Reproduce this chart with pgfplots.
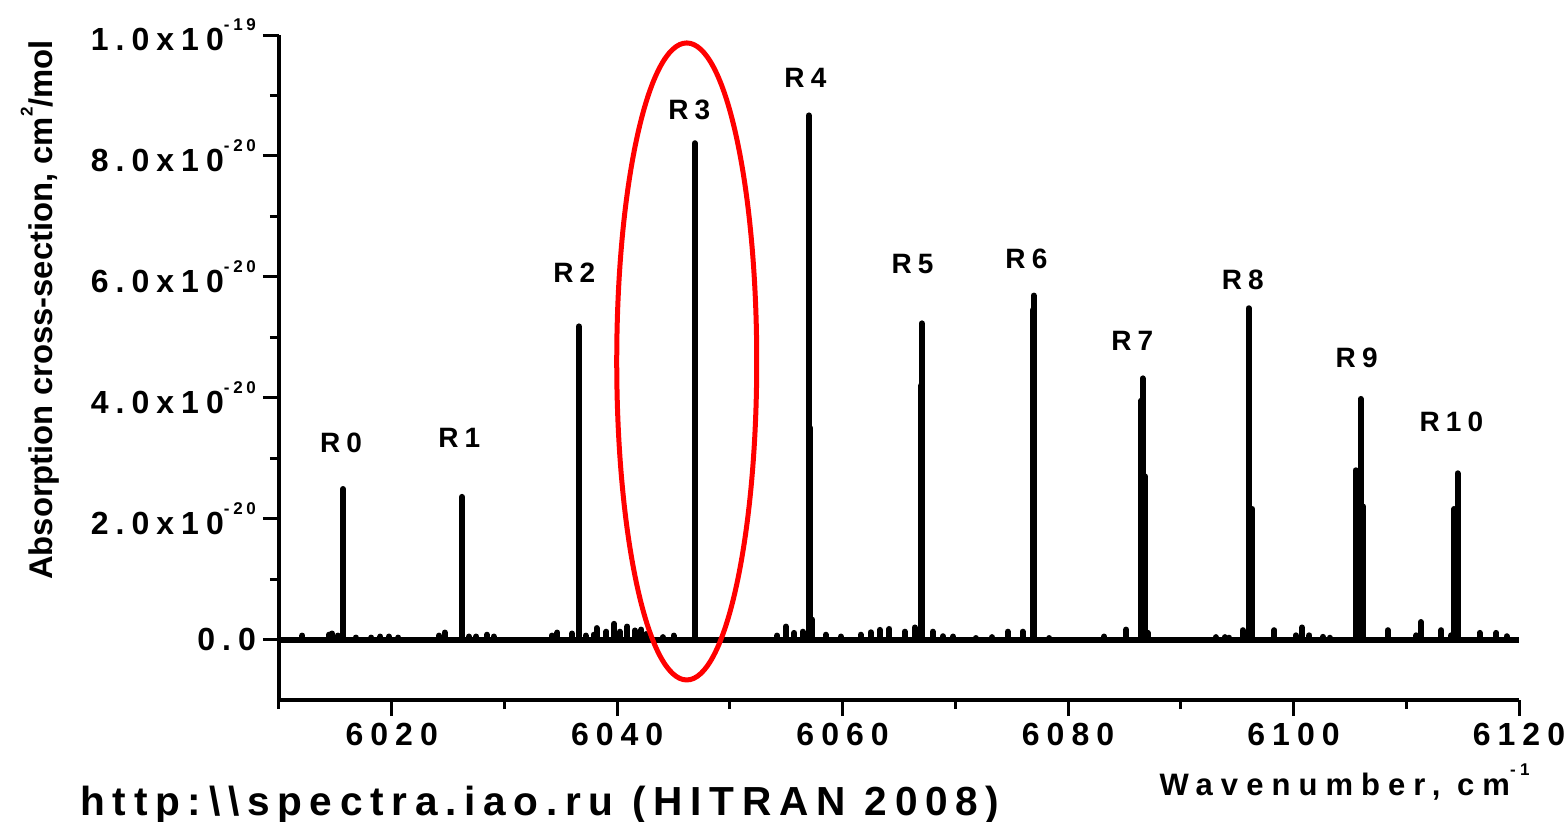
\documentclass[border=0pt]{standalone}
\usepackage{fontspec}
\setmainfont{Liberation Sans}
\newfontfamily\spc[LetterSpace=22]{Liberation Sans}
\newfontfamily\spcb[LetterSpace=19]{Liberation Sans}
\newfontfamily\spcc[LetterSpace=26]{Liberation Sans}
\usepackage{pgfplots}
\usepackage{pgfplotstable}
\pgfplotsset{compat=1.18}
\newcommand\sups[1]{\raisebox{0.62em}{\fontsize{8.5}{8.5}\selectfont #1}}

\pgfplotstableread{
x y
6015.68 2.49e-20
6026.23 2.36e-20
6036.60 5.18e-20
6046.89 8.21e-20
6057.00 8.67e-20
6057.12 3.50e-20
6067.02 5.23e-20
6066.95 4.20e-20
6076.95 5.69e-20
6076.85 5.45e-20
6086.62 4.32e-20
6086.50 3.95e-20
6086.80 2.70e-20
6096.02 5.48e-20
6096.35 2.16e-20
6105.95 3.98e-20
6105.50 2.80e-20
6106.20 2.20e-20
6114.55 2.75e-20
6114.25 2.16e-20
6012.07 0.66e-21
6014.43 0.80e-21
6014.70 1.00e-21
6015.20 0.66e-21
6016.80 0.33e-21
6018.20 0.33e-21
6019.00 0.50e-21
6019.75 0.50e-21
6020.60 0.33e-21
6024.20 0.66e-21
6024.70 1.16e-21
6026.85 0.50e-21
6027.50 0.50e-21
6028.45 0.80e-21
6029.05 0.50e-21
6034.20 0.66e-21
6034.70 1.16e-21
6036.00 1.00e-21
6037.20 0.66e-21
6037.90 0.80e-21
6038.17 1.90e-21
6039.05 1.30e-21
6039.73 2.60e-21
6040.23 1.30e-21
6040.90 2.15e-21
6041.56 1.50e-21
6042.15 1.65e-21
6042.60 0.90e-21
6044.05 0.40e-21
6045.00 0.66e-21
6054.20 0.66e-21
6054.96 2.15e-21
6055.70 1.10e-21
6056.45 1.30e-21
6057.30 3.30e-21
6058.50 0.80e-21
6059.85 0.50e-21
6061.60 0.80e-21
6062.50 1.20e-21
6063.30 1.60e-21
6064.15 1.75e-21
6065.50 1.30e-21
6066.40 2.00e-21
6068.00 1.30e-21
6068.90 0.55e-21
6069.80 0.50e-21
6071.80 0.25e-21
6073.25 0.40e-21
6074.65 1.30e-21
6075.96 1.30e-21
6078.35 0.25e-21
6083.20 0.50e-21
6085.15 1.65e-21
6087.07 1.10e-21
6093.10 0.40e-21
6093.90 0.40e-21
6094.30 0.30e-21
6095.50 1.55e-21
6098.30 1.55e-21
6100.20 0.70e-21
6100.75 2.00e-21
6101.40 0.70e-21
6102.60 0.45e-21
6103.20 0.30e-21
6108.36 1.55e-21
6110.90 0.70e-21
6111.30 2.90e-21
6113.10 1.55e-21
6114.00 0.70e-21
6116.50 1.10e-21
6118.00 1.10e-21
6118.90 0.55e-21
}\sticks

\begin{document}
\begin{tikzpicture}
\path[use as bounding box] (-139.5pt,-60.5pt) rectangle (642.5pt,350pt);
\begin{axis}[
  at={(0pt,0pt)}, anchor=south west,
  scale only axis, width=620pt, height=332.5pt,
  xmin=6010, xmax=6120, ymin=-1e-20, ymax=1e-19,
  axis x line*=bottom, axis y line*=left,
  axis line style={line width=1.6pt},
  every tick/.style={line width=1.5pt, black},
  major tick length=8pt, minor tick length=4.5pt,
  tick align=outside,
  xtick={6020,6040,6060,6080,6100,6120},
  minor xtick={6010,6030,6050,6070,6090,6110},
  xticklabels={6020,6040,6060,6080,6100,6120},
  ytick={0,2e-20,4e-20,6e-20,8e-20,1e-19},
  minor ytick={1e-20,3e-20,5e-20,7e-20,9e-20},
  yticklabels={0.0,2.0x10\sups{-20},4.0x10\sups{-20},6.0x10\sups{-20},8.0x10\sups{-20},1.0x10\sups{-19}},
  scaled ticks=false,
  clip=false,
  ticklabel style={font=\spc\bfseries\fontsize{16}{16}\selectfont},
]
\addplot[black, line width=3pt, forget plot] coordinates {(6010,0) (6120,0)};
\addplot[black, ycomb, line width=3pt, line cap=round, mark=none] table[x=x,y=y] {\sticks};
\draw[red, line width=2.5pt] (axis cs:6046.17,4.6e-20) ellipse [x radius=35pt, y radius=159.25pt];
\begin{scope}[every node/.style={font=\spc\bfseries\fontsize{14}{14}\selectfont, anchor=center, inner sep=0pt}]
\node at (axis cs:6015.5,3.26e-20) {R0};
\node at (axis cs:6026.0,3.34e-20) {R1};
\node at (axis cs:6036.2,6.07e-20) {R2};
\node at (axis cs:6046.4,8.76e-20) {R3};
\node at (axis cs:6056.7,9.29e-20) {R4};
\node at (axis cs:6066.2,6.21e-20) {R5};
\node at (axis cs:6076.3,6.30e-20) {R6};
\node at (axis cs:6085.7,4.94e-20) {R7};
\node at (axis cs:6095.5,5.95e-20) {R8};
\node at (axis cs:6105.6,4.66e-20) {R9};
\node at (axis cs:6114.0,3.60e-20) {R10};
\end{scope}
\end{axis}
\node[anchor=base east, inner sep=0pt, font=\spcc\bfseries\fontsize{15.5}{15.5}\selectfont] at (625.5pt,-47.5pt) {Wavenumber, cm\sups{-1}};
\node[anchor=base west, inner sep=0pt, font=\spcb\bfseries\fontsize{20.3}{20.3}\selectfont] at (-99.5pt,-57.5pt) {http:\textbackslash\textbackslash spectra.iao.ru (HITRAN 2008)};
\node[rotate=90, anchor=base, inner sep=0pt, font=\bfseries\fontsize{16.4}{16.4}\selectfont] at (-113pt,195pt) {Absorption cross-section, cm\sups{2}/mol};
\end{tikzpicture}
\end{document}
